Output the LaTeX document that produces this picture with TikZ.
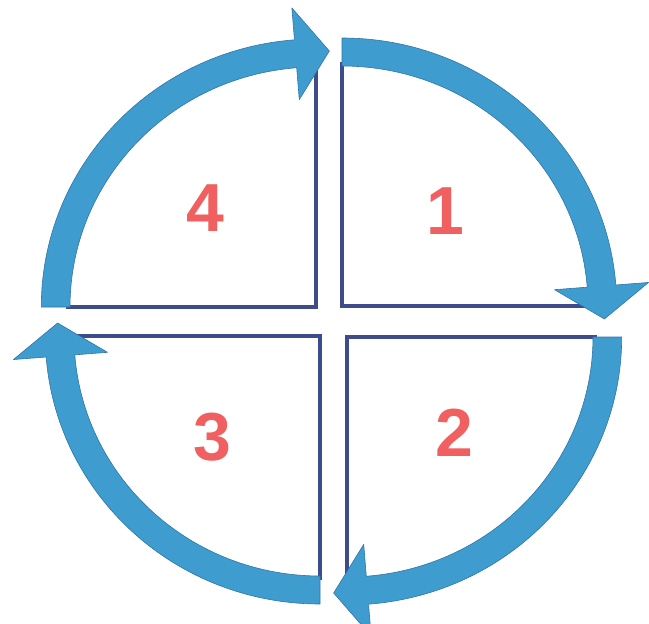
\documentclass[tikz,border=0pt]{standalone}
\usepackage{fontspec}
\usepackage{xcolor}
\usepackage{tikz}
\newfontfamily\digitfont{Liberation Sans}
\definecolor{bandblue}{RGB}{62,156,206}
\definecolor{bandedge}{RGB}{48,118,168}
\definecolor{linenavy}{RGB}{62,76,140}
\definecolor{numred}{RGB}{240,96,96}
\tikzset{
  qband/.style={fill=bandblue, draw=bandedge, line width=0.6pt, line join=round},
  qline/.style={draw=linenavy, line width=3.4pt},
  qnum/.style={text=numred, font=\digitfont\bfseries\fontsize{68}{68}\selectfont, inner sep=0pt},
  quarter/.pic={
    \draw[qline] (0,244) |- (244,0);
    \filldraw[qband] (90:268) arc[start angle=90, end angle=4.5, radius=268]
      -- (4.5:300) -- (256,-13) -- (4.5:208) -- (4.5:240)
      arc[start angle=4.5, end angle=90, radius=240] -- cycle;
  }
}

\begin{document}
\begin{tikzpicture}[x=1pt, y=1pt]
\useasboundingbox (0,-624) rectangle (649,0);
\pic[shift={(342,-306)}, xscale=1.025] {quarter};
\pic[shift={(347,-337)}, xscale=1.025, rotate=-90] {quarter};
\pic[shift={(320,-336)}, xscale=1.025, rotate=180] {quarter};
\pic[shift={(316,-307)}, xscale=1.025, rotate=90] {quarter};
\node[qnum] (n1) at (445,-211) {1};
\node[qnum] (n2) at (454,-433) {2};
\node[qnum] (n3) at (212,-437) {3};
\node[qnum] (n4) at (205,-208) {4};
\end{tikzpicture}
\end{document}
